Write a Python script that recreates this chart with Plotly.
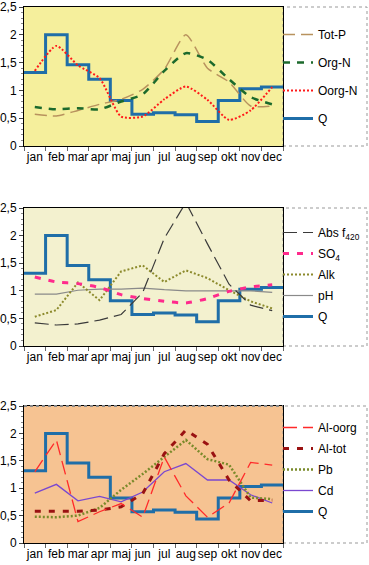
import plotly.graph_objects as go

months = ["jan", "feb", "mar", "apr", "maj", "jun", "jul", "aug", "sep", "okt", "nov", "dec"]

Q = [1.32, 2.0, 1.46, 1.2, 0.82, 0.57, 0.6, 0.56, 0.44, 0.82, 1.03, 1.06]

# panel 1
tot_p = [0.57, 0.54, 0.64, 0.75, 0.84, 1.02, 1.38, 2.0, 1.4, 1.15, 0.72, 0.72]
org_n = [0.70, 0.66, 0.68, 0.66, 0.80, 0.93, 1.35, 1.67, 1.55, 1.2, 0.88, 0.75]
oorg_n = [1.35, 1.8, 1.45, 1.22, 0.53, 0.53, 0.84, 1.07, 0.83, 0.47, 0.64, 1.06]

# panel 2
abs_f420 = [0.42, 0.38, 0.40, 0.47, 0.57, 0.97, 1.95, 2.6, 1.85, 1.12, 0.74, 0.64]
so4 = [1.25, 1.16, 1.13, 1.06, 0.93, 0.86, 0.81, 0.78, 0.86, 0.99, 1.07, 1.11]
alk = [0.53, 0.65, 1.15, 0.83, 1.35, 1.46, 1.16, 1.37, 1.23, 1.01, 0.81, 0.68]
ph = [0.94, 0.94, 1.01, 1.03, 1.03, 1.05, 1.02, 1.0, 1.0, 1.0, 1.0, 0.97]

# panel 3
al_oorg = [1.3, 1.88, 0.39, 0.57, 0.72, 0.47, 1.57, 0.86, 0.47, 0.73, 1.47, 1.42]
al_tot = [0.58, 0.58, 0.58, 0.6, 0.66, 0.9, 1.63, 2.06, 1.8, 1.15, 0.77, 0.78]
pb = [0.48, 0.47, 0.5, 0.64, 0.97, 1.26, 1.57, 1.88, 1.53, 1.43, 0.83, 0.8]
cd = [0.91, 1.07, 0.77, 0.85, 0.75, 0.93, 1.3, 1.45, 1.15, 1.15, 0.88, 0.73]

xc = [i + 0.5 for i in range(12)]
xq = list(range(13))
yq = Q + [Q[-1]]

W, H = 369, 565
ML, MR, MT, MB = 24, 86, 7, 22
ph_px = H - MT - MB
pw_px = W - ML - MR


def py(px):
    return (H - MB - px) / ph_px


def pxx(px):
    return (px - ML) / pw_px


domains = [(py(146), py(7)), (py(346), py(208)), (py(543), py(406))]

fig = go.Figure()

QCOL = "#1f6ea8"


def add(x, y, name, color, width, dash, panel, legend, rank, shape="linear"):
    sfx = "" if panel == 1 else str(panel)
    line = dict(color=color, width=width, dash=dash, shape=shape)
    if shape == "spline":
        line["smoothing"] = 0.6
    fig.add_trace(go.Scatter(
        x=x, y=y, name=name, mode="lines", line=line,
        xaxis="x" + sfx, yaxis="y" + sfx, legend=legend, legendrank=rank,
        legendgroup="g%d_%d" % (panel, rank), hoverinfo="skip"))


add(xq, yq, "Q", QCOL, 3, "solid", 1, "legend", 5, "hv")
add(xc, tot_p, "Tot-P", "#b8925e", 1.5, "12px,6px", 1, "legend", 1, "spline")
add(xc, org_n, "Org-N", "#1c6a2c", 2.5, "7px,7px", 1, "legend", 2, "spline")
add(xc, oorg_n, "Oorg-N", "#ff1a1a", 2, "2px,2px", 1, "legend", 3, "spline")

add(xq, yq, "Q", QCOL, 3, "solid", 2, "legend2", 5, "hv")
add(xc, ph, "pH", "#8a8a8a", 1.2, "solid", 2, "legend2", 4)
add(xc, alk, "Alk", "#8c8a2c", 2, "2px,2px", 2, "legend2", 3)
add(xc, so4, "SO<sub>4</sub>", "#ff2a8c", 3, "6px,8px", 2, "legend2", 2, "spline")
add(xc, abs_f420, "Abs f<sub>420</sub>", "#3a3a3a", 1.2, "14px,6px", 2, "legend2", 1)

add(xq, yq, "Q", QCOL, 3, "solid", 3, "legend3", 5, "hv")
add(xc, cd, "Cd", "#7a48d0", 1.3, "solid", 3, "legend3", 4)
add(xc, pb, "Pb", "#7a8a2a", 2.5, "2px,2px", 3, "legend3", 3)
add(xc, al_tot, "Al-tot", "#9a1212", 3, "6px,8px", 3, "legend3", 2)
add(xc, al_oorg, "Al-oorg", "#ff2a2a", 1.3, "14px,6px", 3, "legend3", 1)

bgs = ["#f5ef9c", "#f3f1cf", "#f6c392"]
font = dict(family="Liberation Sans, Arial, sans-serif", size=12, color="#000")

layout = dict(
    width=W, height=H,
    margin=dict(l=ML, r=MR, t=MT, b=MB, autoexpand=False),
    paper_bgcolor="white",
    plot_bgcolor="white",
    separators=", ",
    font=font,
    showlegend=True,
)

shapes = []
for i, (d0, d1) in enumerate(domains):
    sfx = "" if i == 0 else str(i + 1)
    layout["xaxis" + sfx] = dict(
        domain=[0, 1], anchor="y" + sfx, range=[0, 12],
        tickvals=xc, ticktext=months, ticks="", tickangle=0,
        showgrid=False, zeroline=False,
        showline=True, linecolor="#000", linewidth=1, mirror=True,
        minor=dict(tickmode="linear", tick0=0, dtick=1, ticks="outside",
                   ticklen=4, tickcolor="#666", showgrid=False),
        tickfont=font, fixedrange=True, automargin=False,
    )
    layout["yaxis" + sfx] = dict(
        domain=[d0, d1], anchor="x" + sfx, range=[0, 2.5],
        tickvals=[0, 0.5, 1, 1.5, 2, 2.5], ticks="outside", ticklen=4,
        tickcolor="#444", showgrid=False, zeroline=False,
        showline=True, linecolor="#000", linewidth=1, mirror=True,
        minor=dict(tickmode="linear", tick0=0, dtick=0.1, ticks="outside",
                   ticklen=2, tickcolor="#888", showgrid=False),
        tickfont=font, fixedrange=True, automargin=False,
    )
    shapes.append(dict(type="rect", xref="paper", yref="paper", x0=0, x1=1,
                       y0=d0, y1=d1, fillcolor=bgs[i], line=dict(width=0),
                       layer="below"))
    shapes.append(dict(type="rect", xref="paper", yref="paper",
                       x0=1.0, x1=pxx(367),
                       y0=d0, y1=d1, fillcolor="white",
                       line=dict(color="#999", width=1, dash="dot"),
                       layer="below"))

shapes.append(dict(type="line", xref="paper", yref="paper", x0=0, x1=1,
                   y0=domains[2][1], y1=domains[2][1],
                   line=dict(color="#888", width=2, dash="dot")))

legx = pxx(278)
leg_common = dict(x=legx, xanchor="left", yanchor="top", bgcolor="rgba(0,0,0,0)",
                  borderwidth=0, font=font, traceorder="grouped",
                  itemwidth=30)
layout["legend"] = dict(leg_common, y=py(20), tracegroupgap=9)
layout["legend2"] = dict(leg_common, y=py(218), tracegroupgap=2)
layout["legend3"] = dict(leg_common, y=py(413), tracegroupgap=2)
layout["shapes"] = shapes

fig.update_layout(**layout)
fig.write_html("out.html", config={"displayModeBar": False},
               post_script="document.body.style.margin='0';document.body.style.padding='0';")
